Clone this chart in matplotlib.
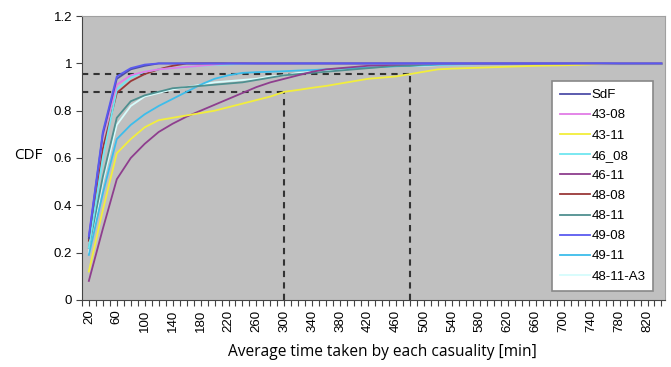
#!/usr/bin/env python3
"""
CDF of the average time taken by each casualty, one curve per scenario
"""
import matplotlib
matplotlib.use("Agg")
import matplotlib.pyplot as plt
from matplotlib.ticker import MultipleLocator

# x categories (minutes)
minutes = list(range(20, 841, 20))

sdf = [0.26, 0.70, 0.935, 0.975, 0.99, 1.0, 1.0, 1.0, 1.0, 1.0,
       1.0, 1.0, 1.0, 1.0, 1.0, 1.0, 1.0, 1.0, 1.0, 1.0,
       1.0, 1.0, 1.0, 1.0, 1.0, 1.0, 1.0, 1.0, 1.0, 1.0,
       1.0, 1.0, 1.0, 1.0, 1.0, 1.0, 1.0, 1.0, 1.0, 1.0, 1.0, 1.0]
s43_08 = [0.27, 0.69, 0.91, 0.95, 0.965, 0.975, 0.98, 0.985, 0.99, 0.995,
          1.0, 1.0, 1.0, 1.0, 1.0, 1.0, 1.0, 1.0, 1.0, 1.0,
          1.0, 1.0, 1.0, 1.0, 1.0, 1.0, 1.0, 1.0, 1.0, 1.0,
          1.0, 1.0, 1.0, 1.0, 1.0, 1.0, 1.0, 1.0, 1.0, 1.0, 1.0, 1.0]
s43_11 = [0.12, 0.38, 0.62, 0.68, 0.73, 0.76, 0.77, 0.78, 0.79, 0.80,
          0.815, 0.83, 0.845, 0.86, 0.88, 0.888, 0.897, 0.905, 0.915, 0.925,
          0.935, 0.94, 0.945, 0.955, 0.965, 0.975, 0.978, 0.98, 0.982, 0.984,
          0.986, 0.988, 0.99, 0.991, 0.992, 0.994, 0.996, 0.998, 1.0, 1.0, 1.0, 1.0]
s46_08 = [0.22, 0.60, 0.89, 0.94, 0.965, 0.975, 0.98, 0.985, 0.99, 0.993,
          0.996, 0.998, 1.0, 1.0, 1.0, 1.0, 1.0, 1.0, 1.0, 1.0,
          1.0, 1.0, 1.0, 1.0, 1.0, 1.0, 1.0, 1.0, 1.0, 1.0,
          1.0, 1.0, 1.0, 1.0, 1.0, 1.0, 1.0, 1.0, 1.0, 1.0, 1.0, 1.0]
s46_11 = [0.08, 0.30, 0.51, 0.60, 0.66, 0.71, 0.745, 0.775, 0.80, 0.825,
          0.85, 0.875, 0.90, 0.92, 0.935, 0.95, 0.965, 0.975, 0.98, 0.985,
          0.99, 0.992, 0.995, 0.997, 1.0, 1.0, 1.0, 1.0, 1.0, 1.0,
          1.0, 1.0, 1.0, 1.0, 1.0, 1.0, 1.0, 1.0, 1.0, 1.0, 1.0, 1.0]
s48_08 = [0.25, 0.64, 0.875, 0.925, 0.955, 0.975, 0.99, 1.0, 1.0, 1.0,
          1.0, 1.0, 1.0, 1.0, 1.0, 1.0, 1.0, 1.0, 1.0, 1.0,
          1.0, 1.0, 1.0, 1.0, 1.0, 1.0, 1.0, 1.0, 1.0, 1.0,
          1.0, 1.0, 1.0, 1.0, 1.0, 1.0, 1.0, 1.0, 1.0, 1.0, 1.0, 1.0]
s48_11 = [0.22, 0.52, 0.77, 0.84, 0.865, 0.88, 0.895, 0.90, 0.905, 0.91,
          0.915, 0.92, 0.93, 0.94, 0.95, 0.955, 0.96, 0.965, 0.97, 0.975,
          0.98, 0.985, 0.99, 0.99, 0.995, 0.997, 0.998, 0.998, 0.998, 0.998,
          0.998, 0.998, 0.998, 0.998, 0.998, 0.998, 0.998, 0.998, 0.998, 0.998, 0.998, 0.998]
s49_08 = [0.27, 0.71, 0.945, 0.98, 0.995, 1.0, 1.0, 1.0, 1.0, 1.0,
          1.0, 1.0, 1.0, 1.0, 1.0, 1.0, 1.0, 1.0, 1.0, 1.0,
          1.0, 1.0, 1.0, 1.0, 1.0, 1.0, 1.0, 1.0, 1.0, 1.0,
          1.0, 1.0, 1.0, 1.0, 1.0, 1.0, 1.0, 1.0, 1.0, 1.0, 1.0, 1.0]
s49_11 = [0.19, 0.45, 0.68, 0.74, 0.785, 0.82, 0.85, 0.88, 0.91, 0.935,
          0.95, 0.96, 0.963, 0.965, 0.967, 0.97, 0.972, 0.975, 0.978, 0.98,
          0.983, 0.985, 0.988, 0.99, 0.992, 0.994, 0.995, 0.996, 0.997, 0.997,
          0.997, 0.997, 0.997, 0.997, 0.997, 0.997, 0.997, 0.997, 0.997, 0.997, 0.997, 0.997]
s48_11_a3 = [0.20, 0.50, 0.74, 0.82, 0.86, 0.875, 0.89, 0.90, 0.91, 0.92,
             0.925, 0.93, 0.935, 0.945, 0.95, 0.96, 0.965, 0.97, 0.975, 0.98,
             0.985, 0.985, 0.99, 0.99, 0.99, 0.993, 0.995, 0.996, 0.997, 0.998,
             0.999, 1.0, 1.0, 1.0, 1.0, 1.0, 1.0, 1.0, 1.0, 1.0, 1.0, 1.0]

series_names = ["SdF", "43-08", "43-11", "46_08", "46-11",
                "48-08", "48-11", "49-08", "49-11", "48-11-A3"]
series_values = [sdf, s43_08, s43_11, s46_08, s46_11,
                 s48_08, s48_11, s49_08, s49_11, s48_11_a3]
colors = ["#4E4EA8", "#E27CE6", "#F2EE3C", "#6FE6F0", "#8E3E8E",
          "#9A3838", "#4F9090", "#5A5AF0", "#3DBDEB", "#D6FCFC"]

# reference levels marked with dashed lines
level_low, level_high = 0.88, 0.955
time_low, time_high = 300, 480

x_labels = list(range(20, 821, 40))
y_ticks = [0, 0.2, 0.4, 0.6, 0.8, 1.0, 1.2]
y_labels = ["0", "0.2", "0.4", "0.6", "0.8", "1", "1.2"]


def main():
    fig = plt.figure(figsize=(6.71, 3.67), dpi=100)
    ax = fig.add_axes([0.122, 0.183, 0.869, 0.773])
    ax.set_facecolor("#C0C0C0")

    # draw back to front so the blue ones end up on top
    for i in reversed(range(len(series_names))):
        ax.plot(minutes, series_values[i], color=colors[i], lw=1.3,
            label=series_names[i], zorder=3.5 if i == 7 else 3)

    dash = dict(color="#333333", lw=1.5, ls=(0, (3, 2.5)), zorder=2)
    ax.plot([10, time_high], [level_high, level_high], **dash)
    ax.plot([10, time_low], [level_low, level_low], **dash)
    ax.plot([time_low, time_low], [0, level_low], **dash)
    ax.plot([time_high, time_high], [0, level_high], **dash)

    ax.set_xlim(10, 845)
    ax.set_ylim(0, 1.2)
    ax.set_xticks(x_labels)
    ax.set_xticklabels([str(v) for v in x_labels], rotation=90,
        fontfamily="Liberation Sans", fontsize=9.5)
    ax.xaxis.set_minor_locator(MultipleLocator(10))
    ax.set_yticks(y_ticks)
    ax.set_yticklabels(y_labels, fontfamily="Liberation Sans", fontsize=9.5)
    ax.tick_params(axis="both", which="both", length=4, width=0.8,
        color="#444444", pad=3)

    for side in ["top", "right"]:
        ax.spines[side].set_color("#A0A0A0")
    for side in ["left", "bottom"]:
        ax.spines[side].set_color("#444444")

    ax.set_xlabel("Average time taken by each casuality [min]",
        fontfamily="Open Sans", fontsize=11.2)
    ax.xaxis.set_label_coords(0.515, -0.183, transform=ax.transAxes)
    ax.xaxis.label.set_va("center")
    fig.text(0.042, 0.575, "CDF", fontfamily="Open Sans", fontsize=11,
        ha="center", va="center")

    handles, labels = ax.get_legend_handles_labels()
    leg = ax.legend(handles[::-1], labels[::-1], loc="upper left",
        bbox_to_anchor=(0.806, 0.771), prop={"family": "Liberation Sans", "size": 9.5},
        frameon=True, fancybox=False, framealpha=1, handlelength=2.3,
        handletextpad=0.1, labelspacing=0.6, borderpad=0.6, borderaxespad=0)
    leg.get_frame().set_edgecolor("#888888")
    leg.get_frame().set_linewidth(1.2)
    leg.set_zorder(10)

    fig.savefig("out.png", dpi=100)


if __name__ == "__main__":
    main()
